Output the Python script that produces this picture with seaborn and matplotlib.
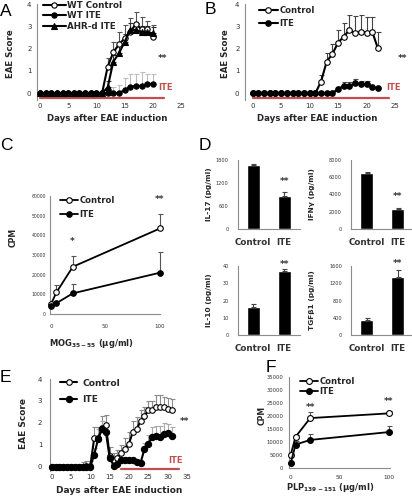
import numpy as np
import matplotlib
matplotlib.use("Agg")
import matplotlib.pyplot as plt
import seaborn as sns

W, H = 412, 498
RED = "#c0504d"
GRAY = "#8c8c8c"
TXT = "#333333"

# ---- panel A: EAE score, WT vs AHR-deficient
days_a = list(range(0, 21))
a_wt_ctrl = [0, 0, 0, 0, 0, 0, 0, 0, 0, 0, 0, 0, 1.19, 1.84, 2.19, 2.46, 2.76, 3.1, 2.87, 2.87, 2.5]
a_wt_ctrl_err = [0, 0, 0, 0, 0, 0, 0, 0, 0, 0, 0, 0, 0.38, 0.47, 0.54, 0.6, 0.6, 0.56, 0.56, 0.38, 0.56]
a_wt_ite = [0, 0, 0, 0, 0, 0, 0, 0, 0, 0, 0, 0, 0, 0, 0, 0.15, 0.3, 0.33, 0.33, 0.42, 0.42]
a_wt_ite_err = [0, 0, 0, 0, 0, 0, 0, 0, 0, 0, 0, 0, 0, 0.3, 0.35, 0.55, 0.55, 0.52, 0.64, 0.43, 0.43]
a_ahr_ite = [0, 0, 0, 0, 0, 0, 0, 0, 0, 0, 0, 0, 0.27, 1.42, 1.79, 2.3, 2.84, 2.84, 2.73, 2.73, 2.69]
a_ahr_ite_err = [0, 0, 0, 0, 0, 0, 0, 0, 0, 0, 0, 0, 0.3, 0.3, 0.35, 0.35, 0.3, 0.3, 0.3, 0.3, 0.3]
a_ite_period = [0, 22]

# ---- panel B
days_b = list(range(0, 23))
b_ctrl = [0, 0, 0, 0, 0, 0, 0, 0, 0, 0, 0, 0, 0.52, 1.42, 1.76, 2.27, 2.54, 2.84, 2.69, 2.76, 2.72, 2.76, 2.01]
b_ctrl_err = [0, 0, 0, 0, 0, 0, 0, 0, 0, 0, 0, 0, 0.3, 0.38, 0.44, 0.58, 0.61, 0.66, 0.76, 0.74, 0.68, 0.64, 0.74]
b_ite = [0, 0, 0, 0, 0, 0, 0, 0, 0, 0, 0, 0, 0, 0, 0, 0.2, 0.33, 0.33, 0.45, 0.42, 0.42, 0.28, 0.22]
b_ite_err = [0, 0, 0, 0, 0, 0, 0, 0, 0, 0, 0, 0, 0, 0, 0, 0, 0.17, 0.17, 0.2, 0.13, 0.13, 0, 0]
b_ite_period = [0, 24]

# ---- panel C: MOG recall proliferation
mog_dose = [0, 5, 20, 100]
c_ctrl = [5000, 11000, 24000, 43500]
c_ctrl_err = [0, 3500, 5500, 7500]
c_ite = [4000, 5500, 10500, 21000]
c_ite_err = [1000, 1200, 5000, 10500]

# ---- panel D: cytokines
groups = ["Control", "ITE"]
il17 = [1660, 860]
il17_err = [30, 100]
ifng = [6500, 2300]
ifng_err = [80, 150]
il10 = [16, 37]
il10_err = [2.2, 1.3]
tgfb1 = [340, 1350]
tgfb1_err = [60, 150]

# ---- panel E: therapeutic ITE
days_e = list(range(0, 32))
e_ctrl = [0, 0, 0, 0, 0, 0, 0, 0, 0, 0.05, 0.05, 1.3, 1.3, 1.75, 1.9, 0.5, 0.3, 0.4, 0.6, 0.8,
          1.05, 1.6, 1.7, 2.1, 2.3, 2.6, 2.6, 2.7, 2.7, 2.7, 2.65, 2.6]
e_ctrl_err = [0, 0, 0, 0, 0, 0, 0, 0, 0.2, 0.2, 0.2, 0.5, 0.5, 0.55, 0.45, 0.4, 0.3, 0.35, 0.4, 0.5,
              0.55, 0.5, 0.55, 0.5, 0.4, 0.4, 0.4, 0.55, 0.55, 0.5, 0.5, 0.5]
e_ite = [0, 0, 0, 0, 0, 0, 0, 0, 0, 0, 0, 0.55, 1.25, 1.7, 1.6, 0.4, 0.05, 0.1, 0.3, 0.3,
         0.3, 0.28, 0.2, 0.18, 0.8, 1.05, 1.35, 1.4, 1.35, 1.5, 1.55, 1.4]
e_ite_err = [0, 0, 0, 0, 0, 0, 0, 0, 0, 0, 0, 0.3, 0.45, 0.4, 0.25, 0, 0, 0, 0, 0,
             0, 0, 0, 0, 0.3, 0.4, 0.45, 0.45, 0.5, 0.5, 0.4, 0.4]
e_ite_period = [18, 33]

# ---- panel F: PLP recall proliferation
plp_dose = [0, 5, 20, 100]
f_ctrl = [5000, 12000, 19200, 21000]
f_ctrl_err = [0, 800, 2300, 800]
f_ite = [1800, 9000, 10800, 13800]
f_ite_err = [0, 1500, 2200, 2300]


def px_axes(fig, left, top, right, bottom):
    return fig.add_axes([left / W, 1 - bottom / H, (right - left) / W, (bottom - top) / H])


def style(ax, size):
    sns.despine(ax=ax)
    for s in ["left", "bottom"]:
        ax.spines[s].set_color(GRAY)
        ax.spines[s].set_linewidth(0.8)
    ax.tick_params(colors=GRAY, labelcolor=TXT, labelsize=size, width=0.6, length=2)


def series(ax, x, y, err, label, filled, ms, lw, ecolor, marker="o"):
    x = np.asarray(x)
    y = np.asarray(y, dtype=float)
    err = np.asarray(err, dtype=float)
    keep = err > 0
    ax.errorbar(x[keep], y[keep], yerr=[np.zeros(keep.sum()), err[keep]], fmt="none",
                ecolor=ecolor, elinewidth=0.8, capsize=1.8, capthick=0.8, zorder=2, clip_on=False)
    sns.lineplot(x=x, y=y, ax=ax, color="black", lw=lw, marker=marker, markersize=ms,
                 markerfacecolor="black" if filled else "white", markeredgecolor="black",
                 markeredgewidth=0.8, label=label, zorder=3, clip_on=False)


def legend(ax, fig, left, top, size, spacing, hlen, pad=0.3):
    ax.legend(loc="upper left", bbox_to_anchor=(left / W, 1 - top / H),
              bbox_transform=fig.transFigure, frameon=False, borderpad=0, borderaxespad=0,
              prop={"weight": "bold", "size": size}, labelspacing=spacing,
              handlelength=hlen, handletextpad=pad)


def fig_text(fig, x, y, s, **kw):
    fig.text(x / W, 1 - y / H, s, ha="center", va="center", **kw)


sns.set_style("white")
plt.rcParams["font.family"] = ["DejaVu Sans"]
plt.rcParams["mathtext.fontset"] = "dejavusans"
plt.rcParams["mathtext.default"] = "bf"

fig = plt.figure(figsize=(W / 100, H / 100), dpi=100)

# ================= A
ax = px_axes(fig, 37, 4, 181, 100)
series(ax, days_a, a_wt_ctrl, a_wt_ctrl_err, "WT Control", False, 3.8, 1.5, "#555555")
series(ax, days_a, a_wt_ite, a_wt_ite_err, "WT ITE", True, 3.8, 1.5, "#bdbdbd")
series(ax, days_a, a_ahr_ite, a_ahr_ite_err, "AHR-d ITE", True, 3.8, 1.5, "#333333", marker="^")
ax.plot(a_ite_period, [-0.22, -0.22], color=RED, lw=1.6, clip_on=False)
ax.set_xlim(-0.53, 25)
ax.set_ylim(-0.3, 4)
ax.set_xticks(range(0, 26, 5))
ax.set_yticks(range(0, 5))
style(ax, 5)
ax.spines["bottom"].set_visible(False)
ax.tick_params(axis="x", length=0, pad=2.5)
ax.tick_params(axis="y", pad=2)
ax.text(21.8, 1.57, "**", fontsize=6.5, fontweight="bold", color=TXT, ha="center", va="center")
ax.text(22.2, 0.27, "ITE", fontsize=6, fontweight="bold", color=RED, ha="center", va="center")
ax.set_xlabel("Days after EAE induction", fontsize=6.2, fontweight="bold", va="center")
ax.xaxis.set_label_coords(107 / W, 1 - 118 / H, transform=fig.transFigure)
ax.set_ylabel("EAE Score", fontsize=6.2, fontweight="bold", va="center")
ax.yaxis.set_label_coords(11 / W, 1 - 54 / H, transform=fig.transFigure)
legend(ax, fig, 43, 0.8, 6.3, 0.18, 2.6, 0.15)

# ================= B
ax = px_axes(fig, 245, 4, 395, 100)
series(ax, days_b, b_ctrl, b_ctrl_err, "Control", False, 4, 1.5, "#444444")
series(ax, days_b, b_ite, b_ite_err, "ITE", True, 4, 1.5, "#444444")
ax.plot(b_ite_period, [-0.22, -0.22], color=RED, lw=1.6, clip_on=False)
ax.set_xlim(-1.35, 25)
ax.set_ylim(-0.3, 4)
ax.set_xticks(range(0, 26, 5))
ax.set_yticks(range(0, 5))
style(ax, 5)
ax.spines["bottom"].set_visible(False)
ax.tick_params(axis="x", length=0, pad=2.5)
ax.tick_params(axis="y", pad=2)
ax.text(26.4, 1.57, "**", fontsize=6.5, fontweight="bold", color=TXT, ha="center", va="center", clip_on=False)
ax.text(24.8, 0.27, "ITE", fontsize=6, fontweight="bold", color=RED, ha="center", va="center", clip_on=False)
ax.set_xlabel("Days after EAE induction", fontsize=6.2, fontweight="bold", va="center")
ax.xaxis.set_label_coords(317 / W, 1 - 118 / H, transform=fig.transFigure)
ax.set_ylabel("EAE Score", fontsize=6.2, fontweight="bold", va="center")
ax.yaxis.set_label_coords(225 / W, 1 - 54 / H, transform=fig.transFigure)
legend(ax, fig, 259, 5.8, 6.1, 0.45, 2.2, 0.2)

# ================= C
ax = px_axes(fig, 50, 196, 160, 314)
series(ax, mog_dose, c_ctrl, c_ctrl_err, "Control", False, 4, 1.3, "#555555")
series(ax, mog_dose, c_ite, c_ite_err, "ITE", True, 4, 1.3, "#555555")
ax.set_xlim(-0.9, 100)
ax.set_ylim(0, 60000)
ax.set_xticks([0, 50, 100])
ax.set_yticks(range(0, 60001, 10000))
style(ax, 3.3)
ax.tick_params(axis="x", labelsize=4, pad=5.5)
ax.tick_params(axis="y", pad=0.8)
ax.text(19.5, 37000, "*", fontsize=6.5, fontweight="bold", color=TXT, ha="center", va="center")
ax.text(100, 58000, "**", fontsize=6.5, fontweight="bold", color=TXT, ha="center", va="center", clip_on=False)
ax.set_xlabel(r"MOG$_{35-55}$ (µg/ml)", fontsize=6, fontweight="bold", va="center")
ax.xaxis.set_label_coords(91 / W, 1 - 343 / H, transform=fig.transFigure)
ax.set_ylabel("CPM", fontsize=5.5, fontweight="bold", va="center")
ax.yaxis.set_label_coords(13 / W, 1 - 237 / H, transform=fig.transFigure)
legend(ax, fig, 60, 195.8, 6.1, 0.56, 2.1, 0.2)

# ================= D
d_panels = [
    (il17, il17_err, "IL-17 (pg/ml)", [0, 600, 1200, 1800], 237.7, 160, 229, 209, 1231),
    (ifng, ifng_err, "IFNγ (pg/ml)", [0, 2000, 4000, 6000, 8000], 351, 160, 229, 312, 3726),
    (il10, il10_err, "IL-10 (pg/ml)", [0, 10, 20, 30, 40], 237.7, 266, 335, 209, 40.6),
    (tgfb1, tgfb1_err, "TGFβ1 (pg/ml)", [0, 400, 800, 1200, 1600], 351, 266, 335, 312, 1663),
]
for vals, errs, ylab, yt, left, top, bottom, labx, star_y in d_panels:
    ax = px_axes(fig, left, top, left + 62, bottom)
    sns.barplot(x=groups, y=vals, color="black", saturation=1, width=0.42, ax=ax, errorbar=None)
    ax.errorbar([0, 1], vals, yerr=[[0, 0], errs], fmt="none", ecolor="#444444",
                elinewidth=0.8, capsize=1.8, capthick=0.8, clip_on=False)
    ax.set_xlim(-0.5, 1.5)
    ax.set_ylim(yt[0], yt[-1])
    ax.set_yticks(yt)
    style(ax, 3.6)
    ax.set_xticks([0.5, 1.5], minor=True)
    ax.tick_params(axis="x", which="major", length=0, pad=6.5, labelsize=6.3)
    ax.tick_params(axis="x", which="minor", length=2, width=0.6, colors=GRAY)
    ax.tick_params(axis="y", pad=4.5)
    for lab in ax.get_xticklabels():
        lab.set_fontweight("bold")
    ax.set_xlabel("")
    ax.text(1, star_y, "**", fontsize=6.5, fontweight="bold", color=TXT, ha="center", va="center", clip_on=False)
    ax.set_ylabel(ylab, fontsize=5.3, fontweight="bold", va="center")
    ax.yaxis.set_label_coords(labx / W, 1 - (top + bottom) / 2 / H, transform=fig.transFigure)

# ================= E
ax = px_axes(fig, 50, 379, 187, 471)
series(ax, days_e, e_ctrl, e_ctrl_err, "Control", False, 4, 1.5, "#8a8a8a")
series(ax, days_e, e_ite, e_ite_err, "ITE", True, 4.5, 1.5, "#aaaaaa")
ax.plot(e_ite_period, [-0.12, -0.12], color=RED, lw=1.6, clip_on=False)
ax.set_xlim(-0.44, 35)
ax.set_ylim(-0.2, 4)
ax.set_xticks(range(0, 36, 5))
ax.set_yticks(range(0, 5))
style(ax, 5)
ax.spines["bottom"].set_visible(False)
ax.tick_params(axis="x", length=0, pad=2.5)
ax.tick_params(axis="y", pad=3.5)
ax.text(34.3, 2.05, "**", fontsize=6.5, fontweight="bold", color=TXT, ha="center", va="center", clip_on=False)
ax.text(32, 0.3, "ITE", fontsize=6, fontweight="bold", color=RED, ha="center", va="center")
ax.set_xlabel("Days after EAE induction", fontsize=6.5, fontweight="bold", va="center")
ax.xaxis.set_label_coords(119 / W, 1 - 490 / H, transform=fig.transFigure)
ax.set_ylabel("EAE Score", fontsize=6.5, fontweight="bold", va="center")
ax.yaxis.set_label_coords(23 / W, 1 - 423 / H, transform=fig.transFigure)
legend(ax, fig, 60, 378.7, 6.6, 0.82, 1.9, 0.55)

# ================= F
ax = px_axes(fig, 289, 377, 390, 468)
series(ax, plp_dose, f_ctrl, f_ctrl_err, "Control", False, 4.2, 1.3, "#555555")
series(ax, plp_dose, f_ite, f_ite_err, "ITE", True, 4.2, 1.3, "#555555")
ax.set_xlim(-1.7, 101.5)
ax.set_ylim(0, 35000)
ax.set_xticks([0, 50, 100])
ax.set_yticks(range(0, 35001, 5000))
style(ax, 3.8)
ax.tick_params(axis="x", labelsize=4.2, pad=2.7)
ax.tick_params(axis="y", pad=2)
ax.text(20, 23300, "**", fontsize=6.5, fontweight="bold", color=TXT, ha="center", va="center")
ax.text(100, 25400, "**", fontsize=6.5, fontweight="bold", color=TXT, ha="center", va="center", clip_on=False)
ax.set_xlabel(r"PLP$_{139-151}$ (µg/ml)", fontsize=6, fontweight="bold", va="center")
ax.xaxis.set_label_coords(330 / W, 1 - 487 / H, transform=fig.transFigure)
ax.set_ylabel("CPM", fontsize=5.5, fontweight="bold", va="center")
ax.yaxis.set_label_coords(262 / W, 1 - 415 / H, transform=fig.transFigure)
legend(ax, fig, 300, 376.8, 6.1, 0.18, 2.1, 0.2)

# panel letters
for letter, x, y in [("A", 6, 12), ("B", 210, 10), ("C", 6, 145), ("D", 205, 145), ("E", 5, 377), ("F", 271, 368)]:
    fig_text(fig, x, y, letter, fontsize=12.5, family=["Liberation Sans", "DejaVu Sans"], color="black")

fig.savefig("out.png", dpi=100)
